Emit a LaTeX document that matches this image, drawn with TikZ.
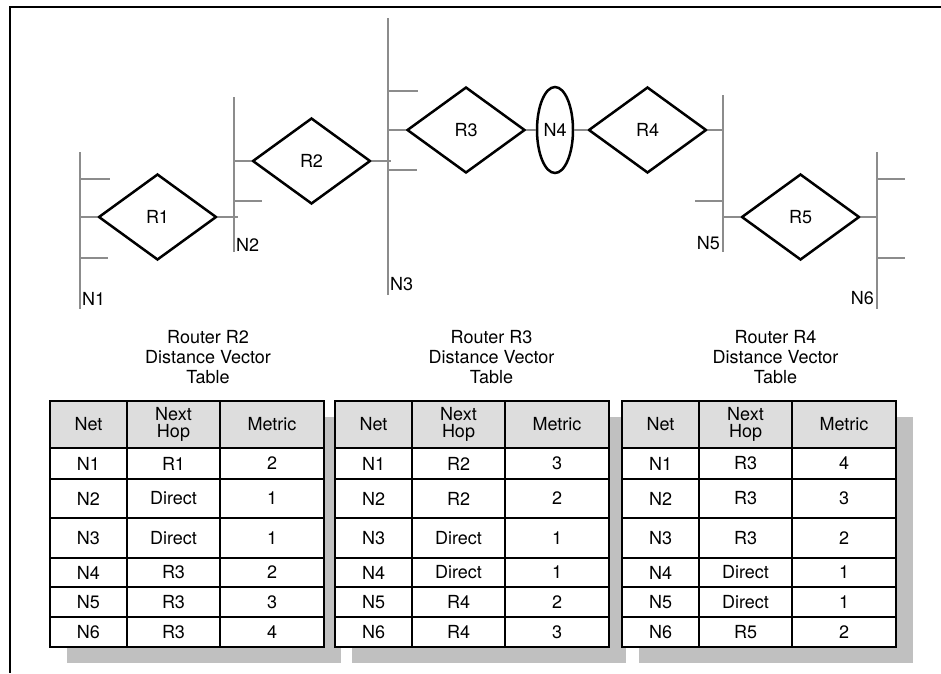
\documentclass[tikz,border=0pt]{standalone}
\usepackage{fontspec}
\setmainfont{TeX Gyre Heros}
\usetikzlibrary{shapes.geometric,calc}
\definecolor{busgray}{RGB}{140,140,140}
\definecolor{headgray}{RGB}{221,221,221}
\definecolor{shadowgray}{RGB}{192,192,192}
\newcommand\dvfont{\fontsize{18}{17}\selectfont}
\newcommand\dvtitlefont{\fontsize{18}{20}\selectfont}
\newcommand\dvrow[8]{%
 \node[#1, minimum width=77pt, minimum height={(#5-#4)*1pt}] (#2a) at ({#3+38.5},{(#4+#5)/2}) {#6};
 \node[#1, minimum width=93pt, minimum height={(#5-#4)*1pt}] (#2b) at ({#3+123.5},{(#4+#5)/2}) {#7};
 \node[#1, minimum width=104pt, minimum height={(#5-#4)*1pt}] (#2c) at ({#3+222},{(#4+#5)/2}) {#8};
}
\begin{document}
\begin{tikzpicture}[x=1pt,y=-1pt,
  bus/.style={draw=busgray, line width=2.6pt},
  router/.style={draw, line width=2.5pt, shape=diamond, inner sep=0pt, minimum width=118pt, minimum height=86pt, font=\dvfont},
  netoval/.style={draw, line width=2.5pt, shape=ellipse, inner sep=0pt, minimum width=36pt, minimum height=86pt, font=\dvfont},
  netlabel/.style={inner sep=1pt, font=\dvfont},
  cell/.style={draw, line width=2.5pt, rectangle, inner sep=0pt, font=\dvfont, align=center, fill=white},
  head/.style={cell, fill=headgray},
  dvtitle/.style={inner sep=0pt, font=\dvtitlefont, align=center}]
\useasboundingbox (0,0) rectangle (941,673);
% frame
\draw[line width=2pt] (941,7) -- (10,7) -- (10,673);

% buses
\coordinate (n1t) at (80,152);  \coordinate (n1b) at (80,309);
\coordinate (n2t) at (234,97);  \coordinate (n2b) at (234,252);
\coordinate (n3t) at (388,18);  \coordinate (n3b) at (388,295);
\coordinate (n5t) at (723,95);  \coordinate (n5b) at (723,252);
\coordinate (n6t) at (877,152); \coordinate (n6b) at (877,309);
\draw[bus] (n1t) -- (n1b);
\draw[bus] (n2t) -- (n2b);
\draw[bus] (n3t) -- (n3b);
\draw[bus] (n5t) -- (n5b);
\draw[bus] (n6t) -- (n6b);
% stubs
\draw[bus] (80,179) -- (110,179);
\draw[bus] (80,258) -- (108,258);
\draw[bus] (234,201) -- (262,201);
\draw[bus] (388,91) -- (418,91);
\draw[bus] (388,170) -- (417,170);
\draw[bus] (723,201) -- (695,201);
\draw[bus] (877,179) -- (905,179);
\draw[bus] (877,258) -- (905,258);

% routers
\node[router] (r1) at (157.5,217) {R1};
\node[router] (r2) at (311.5,161) {R2};
\node[router] (r3) at (466,130) {R3};
\node[netoval] (n4) at (555,130) {N4};
\node[router] (r4) at (647.5,130) {R4};
\node[router] (r5) at (800.5,217) {R5};

% connections
\draw[bus] (r1.west) -- (r1.west -| n1t);
\draw[bus] (r1.east) -- ($(r1.east -| n2t)+(4,0)$);
\draw[bus] (r2.west) -- (r2.west -| n2t);
\draw[bus] (r2.east) -- ($(r2.east -| n3t)+(3,0)$);
\draw[bus] (r3.west) -- (r3.west -| n3t);
\draw[bus] (r3.east) -- (n4.west);
\draw[bus] (n4.east) -- (r4.west);
\draw[bus] (r4.east) -- (r4.east -| n5t);
\draw[bus] (r5.west) -- (r5.west -| n5t);
\draw[bus] (r5.east) -- (r5.east -| n6t);

% bus labels
\node[netlabel, anchor=west] (l1) at (81,299) {N1};
\node[netlabel, anchor=west] (l2) at (235,245) {N2};
\node[netlabel, anchor=west] (l3) at (389,284) {N3};
\node[netlabel, anchor=east] (l5) at (721,243) {N5};
\node[netlabel, anchor=east] (l6) at (875,298) {N6};

% titles
\node[dvtitle] (tt1) at (208,357.5) {Router R2\\Distance Vector\\Table};
\node[dvtitle] (tt2) at (491.5,357.5) {Router R3\\Distance Vector\\Table};
\node[dvtitle] (tt3) at (775.5,357.5) {Router R4\\Distance Vector\\Table};

% shadows
\fill[shadowgray] (67,417) rectangle (341,663);
\fill[shadowgray] (352,417) rectangle (626,663);
\fill[shadowgray] (639,417) rectangle (913,663);

% table 1
\dvrow{head}{t1h}{50}{401}{448}{Net}{Next\\Hop}{Metric}
\dvrow{cell}{t1r1}{50}{448}{479}{N1}{R1}{2}
\dvrow{cell}{t1r2}{50}{479}{518}{N2}{Direct}{1}
\dvrow{cell}{t1r3}{50}{518}{558}{N3}{Direct}{1}
\dvrow{cell}{t1r4}{50}{558}{587}{N4}{R3}{2}
\dvrow{cell}{t1r5}{50}{587}{617}{N5}{R3}{3}
\dvrow{cell}{t1r6}{50}{617}{647}{N6}{R3}{4}
% table 2
\dvrow{head}{t2h}{335}{401}{448}{Net}{Next\\Hop}{Metric}
\dvrow{cell}{t2r1}{335}{448}{479}{N1}{R2}{3}
\dvrow{cell}{t2r2}{335}{479}{518}{N2}{R2}{2}
\dvrow{cell}{t2r3}{335}{518}{558}{N3}{Direct}{1}
\dvrow{cell}{t2r4}{335}{558}{587}{N4}{Direct}{1}
\dvrow{cell}{t2r5}{335}{587}{617}{N5}{R4}{2}
\dvrow{cell}{t2r6}{335}{617}{647}{N6}{R4}{3}
% table 3
\dvrow{head}{t3h}{622}{401}{448}{Net}{Next\\Hop}{Metric}
\dvrow{cell}{t3r1}{622}{448}{479}{N1}{R3}{4}
\dvrow{cell}{t3r2}{622}{479}{518}{N2}{R3}{3}
\dvrow{cell}{t3r3}{622}{518}{558}{N3}{R3}{2}
\dvrow{cell}{t3r4}{622}{558}{587}{N4}{Direct}{1}
\dvrow{cell}{t3r5}{622}{587}{617}{N5}{Direct}{1}
\dvrow{cell}{t3r6}{622}{617}{647}{N6}{R5}{2}
\end{tikzpicture}
\end{document}
